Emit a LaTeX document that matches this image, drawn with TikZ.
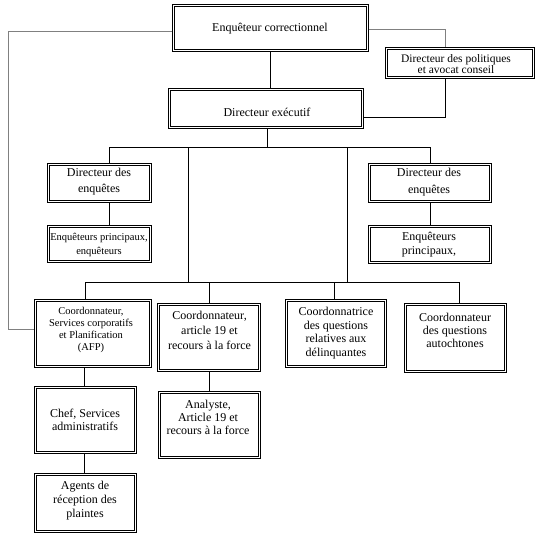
\documentclass[tikz,border=0pt]{standalone}
\usepackage{fontspec}
\setmainfont{Liberation Serif}
\usetikzlibrary{backgrounds}
\begin{document}
\begin{tikzpicture}[x=1pt,y=-1pt,
  box/.style={draw, double, double distance=1.3pt, line width=0.7pt, inner sep=0pt},
  txt/.style={align=center, inner sep=0pt, font=\fontsize{12}{14}\selectfont},
  ln/.style={line width=0.75pt, black},
  gln/.style={line width=0.75pt, black!50}]
\useasboundingbox (0,0) rectangle (536,536);
% boxes
\node[box, minimum width=194.4pt, minimum height=45.4pt] (b1) at (270.5,28) {};
\node[box, minimum width=147.4pt, minimum height=29.4pt] (b2) at (460,63) {};
\node[box, minimum width=193.4pt, minimum height=38.4pt] (b3) at (266,108.5) {};
\node[box, minimum width=102.4pt, minimum height=37.4pt] (b4) at (99.5,183) {};
\node[box, minimum width=102.4pt, minimum height=35.4pt] (b5) at (99.5,244) {};
\node[box, minimum width=121.4pt, minimum height=37.4pt] (b6) at (430,183) {};
\node[box, minimum width=121.4pt, minimum height=36.4pt] (b7) at (430,244.5) {};
\node[box, minimum width=115.4pt, minimum height=66.4pt] (b8) at (93,333.5) {};
\node[box, minimum width=101.4pt, minimum height=66.4pt] (b9) at (209,337.5) {};
\node[box, minimum width=99.4pt, minimum height=66.4pt] (b10) at (336,333.5) {};
\node[box, minimum width=100.4pt, minimum height=67.4pt] (b11) at (455.5,338) {};
\node[box, minimum width=100.4pt, minimum height=65.4pt] (b12) at (85.5,420) {};
\node[box, minimum width=100.4pt, minimum height=65.4pt] (b13) at (209.5,425) {};
\node[box, minimum width=100.4pt, minimum height=57.4pt] (b14) at (85.5,503) {};
% texts
\node[txt] (t1) at (270,28.5) {Enquêteur correctionnel};
\node[txt, font=\fontsize{11.5}{11.5}\selectfont] (t2) at (456,64) {Directeur des politiques\\et avocat conseil};
\node[txt] (t3) at (267,112) {Directeur exécutif};
\node[txt, font=\fontsize{12}{16}\selectfont] (t4) at (99,182) {Directeur des\\enquêtes};
\node[txt, font=\fontsize{10.5}{14}\selectfont] (t5) at (99,245) {Enquêteurs principaux,\\enquêteurs};
\node[txt, font=\fontsize{12}{17}\selectfont] (t6) at (429,182) {Directeur des\\enquêtes};
\node[txt] (t7) at (429,245) {Enquêteurs\\principaux,};
\node[txt, font=\fontsize{10.5}{12}\selectfont] (t8) at (91,330) {Coordonnateur,\\Services corporatifs\\et Planification\\(AFP)};
\node[txt, font=\fontsize{12}{15}\selectfont] (t9) at (209.5,330) {Coordonnateur,\\article 19 et\\recours à la force};
\node[txt, font=\fontsize{12}{13.5}\selectfont] (t10) at (336,333) {Coordonnatrice\\des questions\\relatives aux\\délinquantes};
\node[txt, font=\fontsize{12}{13}\selectfont] (t11) at (455,330) {Coordonnateur\\des questions\\autochtones};
\node[txt, font=\fontsize{12}{13}\selectfont] (t12) at (85,420) {Chef, Services\\administratifs};
\node[txt, font=\fontsize{12}{13}\selectfont] (t13) at (208,417) {Analyste,\\Article 19 et\\recours à la force};
\node[txt, font=\fontsize{12}{14}\selectfont] (t14) at (85,501) {Agents de\\réception des\\plaintes};
% junction coordinates
\coordinate (bl1) at (109,147);
\coordinate (br1) at (430,147);
\coordinate (m1) at (188,147);
\coordinate (m2) at (347,147);
\coordinate (bl2) at (85,282);
\coordinate (br2) at (459,282);
\coordinate (c9) at (209,282);
\coordinate (c10) at (334,282);
\coordinate (gl) at (8,0);
\begin{scope}[on background layer]
\fill[white] (0,0) rectangle (536,536);
\draw[ln] (b1.south) -- (b1.south |- b3.north);
\draw[gln] ([yshift=-1pt]b1.east) -| ([xshift=-15pt]b2.north);
\draw[ln] ([xshift=-15pt]b2.south) |- ([yshift=-8.5pt]b3.east);
\draw[gln] ([yshift=-3pt]b1.west) -- ([yshift=-3pt]b1.west -| gl) |- ([yshift=4.5pt]b8.west);
\draw[ln] ([xshift=1pt]b3.south) -- ([xshift=1pt]b3.south |- bl1);
\draw[ln] (bl1) -- (br1);
\draw[ln] (bl1) -- (bl1 |- b4.north);
\draw[ln] (br1) -- (br1 |- b6.north);
\draw[ln] (b4.south -| bl1) -- (bl1 |- b5.north);
\draw[ln] (b6.south -| br1) -- (br1 |- b7.north);
\draw[ln] (m1) -- (m1 |- bl2);
\draw[ln] (m2) -- (m2 |- bl2);
\draw[ln] (bl2) -- (br2);
\draw[ln] (bl2) -- (bl2 |- b8.north);
\draw[ln] (c9) -- (c9 |- b9.north);
\draw[ln] (c10) -- (c10 |- b10.north);
\draw[ln] (br2) -- (br2 |- b11.north);
\draw[ln] ([xshift=-9pt]b8.south) -- ([xshift=-9pt]b8.south |- b12.north);
\draw[ln] ([xshift=-1.5pt]b12.south) -- ([xshift=-1.5pt]b12.south |- b14.north);
\draw[ln] (b9.south) -- (b9.south |- b13.north);
\end{scope}
\end{tikzpicture}
\end{document}
